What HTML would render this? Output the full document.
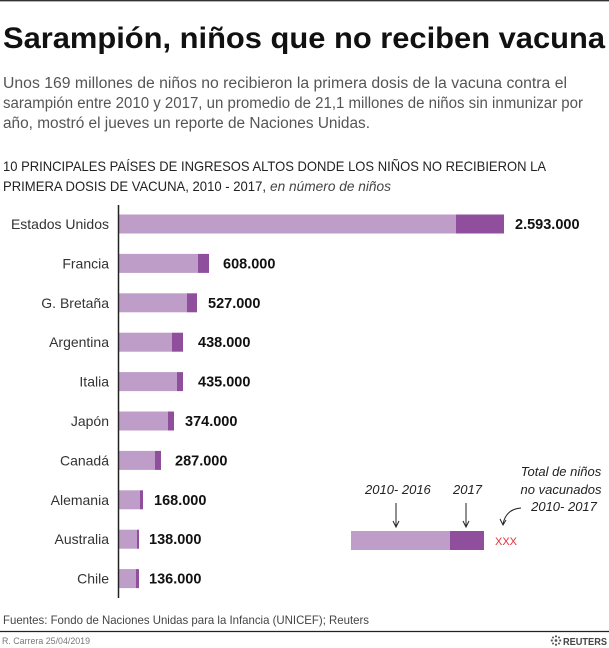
<!DOCTYPE html>
<html>
<head>
<meta charset="utf-8">
<style>
  html,body{margin:0;padding:0;background:#fff;}
  svg{display:block;}
  text{font-family:"Liberation Sans",sans-serif;}
</style>
</head>
<body>
<svg width="609" height="648" viewBox="0 0 609 648" xmlns="http://www.w3.org/2000/svg">
  <rect x="0" y="0" width="609" height="648" fill="#fff"/>
  <line x1="0" y1="0.7" x2="609" y2="0.7" stroke="#333" stroke-width="1.4"/>

  <!-- Title -->
  <text x="3" y="48" font-size="29.5" font-weight="bold" fill="#111" textLength="602" lengthAdjust="spacingAndGlyphs">Sarampión, niños que no reciben vacuna</text>

  <!-- Subtitle -->
  <g font-size="15.5" fill="#555">
    <text x="3" y="88" textLength="564" lengthAdjust="spacingAndGlyphs">Unos 169 millones de niños no recibieron la primera dosis de la vacuna contra el</text>
    <text x="3" y="108" textLength="580" lengthAdjust="spacingAndGlyphs">sarampión entre 2010 y 2017, un promedio de 21,1 millones de niños sin inmunizar por</text>
    <text x="3" y="128" textLength="367" lengthAdjust="spacingAndGlyphs">año, mostró el jueves un reporte de Naciones Unidas.</text>
  </g>

  <!-- Chart heading -->
  <g font-size="14" fill="#222">
    <text x="3" y="171" textLength="543" lengthAdjust="spacingAndGlyphs">10 PRINCIPALES PAÍSES DE INGRESOS ALTOS DONDE LOS NIÑOS NO RECIBIERON LA</text>
    <text x="3" y="191" textLength="263" lengthAdjust="spacingAndGlyphs">PRIMERA DOSIS DE VACUNA, 2010 - 2017,</text>
    <text x="270" y="191" font-style="italic" fill="#444" textLength="121" lengthAdjust="spacingAndGlyphs">en número de niños</text>
  </g>

  <!-- Bars -->
  <g>
    <rect x="119" y="214.5" width="337" height="19" fill="#bf9dc9"/>
    <rect x="456" y="214.5" width="48" height="19" fill="#904f9c"/>
    <rect x="119" y="253.9" width="79" height="19" fill="#bf9dc9"/>
    <rect x="198" y="253.9" width="11" height="19" fill="#904f9c"/>
    <rect x="119" y="293.3" width="68" height="19" fill="#bf9dc9"/>
    <rect x="187" y="293.3" width="10" height="19" fill="#904f9c"/>
    <rect x="119" y="332.7" width="53" height="19" fill="#bf9dc9"/>
    <rect x="172" y="332.7" width="11" height="19" fill="#904f9c"/>
    <rect x="119" y="372.1" width="58" height="19" fill="#bf9dc9"/>
    <rect x="177" y="372.1" width="6" height="19" fill="#904f9c"/>
    <rect x="119" y="411.5" width="49" height="19" fill="#bf9dc9"/>
    <rect x="168" y="411.5" width="6" height="19" fill="#904f9c"/>
    <rect x="119" y="450.9" width="36" height="19" fill="#bf9dc9"/>
    <rect x="155" y="450.9" width="6" height="19" fill="#904f9c"/>
    <rect x="119" y="490.3" width="21" height="19" fill="#bf9dc9"/>
    <rect x="140" y="490.3" width="3" height="19" fill="#904f9c"/>
    <rect x="119" y="529.7" width="18" height="19" fill="#bf9dc9"/>
    <rect x="137" y="529.7" width="2" height="19" fill="#904f9c"/>
    <rect x="119" y="569.1" width="17" height="19" fill="#bf9dc9"/>
    <rect x="136" y="569.1" width="3" height="19" fill="#904f9c"/>
  </g>

  <!-- Axis -->
  <line x1="118.5" y1="205" x2="118.5" y2="598" stroke="#222" stroke-width="1.5"/>

  <!-- Category labels -->
  <g font-size="14" fill="#333" text-anchor="end">
    <text x="109" y="229">Estados Unidos</text>
    <text x="109" y="268.4">Francia</text>
    <text x="109" y="307.8">G. Bretaña</text>
    <text x="109" y="347.2">Argentina</text>
    <text x="109" y="386.6">Italia</text>
    <text x="109" y="426">Japón</text>
    <text x="109" y="465.4">Canadá</text>
    <text x="109" y="504.8">Alemania</text>
    <text x="109" y="544.2">Australia</text>
    <text x="109" y="583.6">Chile</text>
  </g>

  <!-- Value labels -->
  <g font-size="14.5" font-weight="bold" fill="#111">
    <text x="515" y="229">2.593.000</text>
    <text x="223" y="268.4">608.000</text>
    <text x="208" y="307.8">527.000</text>
    <text x="198" y="347.2">438.000</text>
    <text x="198" y="386.6">435.000</text>
    <text x="185" y="426">374.000</text>
    <text x="175" y="465.4">287.000</text>
    <text x="154" y="504.8">168.000</text>
    <text x="149" y="544.2">138.000</text>
    <text x="149" y="583.6">136.000</text>
  </g>

  <!-- Legend -->
  <g>
    <rect x="351" y="531" width="99" height="19" fill="#bf9dc9"/>
    <rect x="450" y="531" width="34" height="19" fill="#904f9c"/>
    <text x="495" y="545" font-size="11" fill="#e0313a">XXX</text>
    <g font-size="13" font-style="italic" fill="#222">
      <text x="365" y="494">2010- 2016</text>
      <text x="453" y="494">2017</text>
      <text x="561" y="476" text-anchor="middle">Total de niños</text>
      <text x="561" y="494" text-anchor="middle">no vacunados</text>
      <text x="564" y="511" text-anchor="middle">2010- 2017</text>
    </g>
    <g stroke="#222" stroke-width="1" fill="none">
      <line x1="396" y1="503" x2="396" y2="526"/>
      <polyline points="393,521 396,527 399,521"/>
      <line x1="466" y1="503" x2="466" y2="526"/>
      <polyline points="463,521 466,527 469,521"/>
      <path d="M521,508 Q506,509 503,524"/>
      <polyline points="500,519 503,525 506,520"/>
    </g>
  </g>

  <!-- Footer -->
  <text x="3" y="624" font-size="12" fill="#444" textLength="366" lengthAdjust="spacingAndGlyphs">Fuentes: Fondo de Naciones Unidas para la Infancia (UNICEF); Reuters</text>
  <line x1="0" y1="631.5" x2="609" y2="631.5" stroke="#222" stroke-width="1.3"/>
  <text x="2" y="644" font-size="9.5" fill="#777" textLength="88" lengthAdjust="spacingAndGlyphs">R. Carrera 25/04/2019</text>

  <!-- Reuters logo -->
  <g fill="#555">
    <circle cx="556" cy="640.5" r="1.4"/>
    <circle cx="556" cy="636.3" r="1.1"/>
    <circle cx="556" cy="644.7" r="1.1"/>
    <circle cx="551.8" cy="640.5" r="1.1"/>
    <circle cx="560.2" cy="640.5" r="1.1"/>
    <circle cx="553" cy="637.5" r="1"/>
    <circle cx="559" cy="637.5" r="1"/>
    <circle cx="553" cy="643.5" r="1"/>
    <circle cx="559" cy="643.5" r="1"/>
  </g>
  <text x="563" y="645" font-size="10.5" font-weight="bold" fill="#444" textLength="44" lengthAdjust="spacingAndGlyphs">REUTERS</text>
</svg>
</body>
</html>
